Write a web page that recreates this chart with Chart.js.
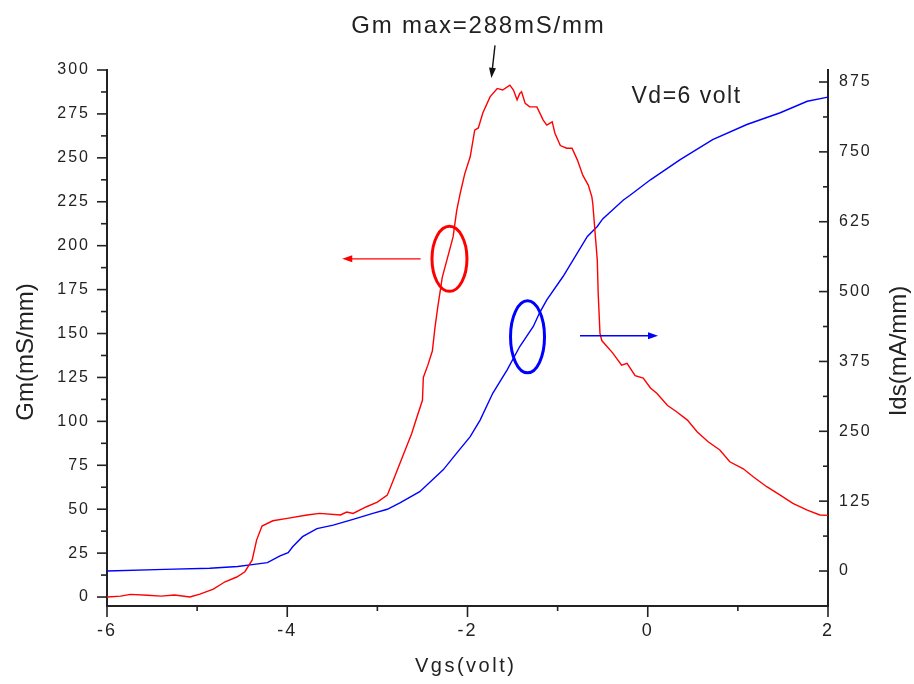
<!DOCTYPE html>
<html>
<head>
<meta charset="utf-8">
<script src="https://cdn.jsdelivr.net/npm/chart.js@4/dist/chart.umd.min.js"></script>
<style>
  html, body { margin: 0; padding: 0; background: #fff; }
  #wrap { width: 914px; height: 684px; position: relative; }
</style>
</head>
<body>
<div id="wrap"><canvas id="c"></canvas></div>
<script>
// Gm (红, 左轴) 与 Ids (蓝, 右轴) 随 Vgs 变化
const vgsGm = [-6.00, -5.85, -5.74, -5.55, -5.40, -5.25, -5.08, -4.97, -4.82, -4.69, -4.56, -4.47, -4.39, -4.34, -4.28,
  -4.16, -4.00, -3.78, -3.64, -3.41, -3.34, -3.27, -3.12, -3.00, -2.89, -2.83, -2.72, -2.62, -2.56, -2.50, -2.49,
  -2.44, -2.39, -2.36, -2.33, -2.28, -2.16, -2.12, -2.08, -2.03, -1.97, -1.92, -1.88, -1.83, -1.75, -1.67, -1.61,
  -1.53, -1.49, -1.45, -1.42, -1.40, -1.36, -1.31, -1.23, -1.16, -1.12, -1.06, -1.03, -0.97, -0.90, -0.84, -0.78,
  -0.72, -0.66, -0.62, -0.61, -0.56, -0.55, -0.53, -0.51, -0.39, -0.29, -0.23, -0.14, -0.05, 0.03, 0.10, 0.22,
  0.32, 0.44, 0.55, 0.67, 0.80, 0.91, 1.06, 1.17, 1.32, 1.47, 1.61, 1.77, 1.91, 2.00];
const gm = [0, 0.5, 1.5, 1, 0.5, 1.2, 0, 1.7, 4.5, 8.7, 11.4, 14.4, 21, 32.4, 40.4,
  43.4, 44.8, 46.7, 47.6, 46.7, 48.4, 47.6, 51.4, 54, 58, 65.6, 80, 93, 102.6, 112, 125,
  132, 140, 153.8, 165, 182, 205, 220, 230, 241, 250.6, 265.8, 267, 275.5, 284.7, 289.5, 288.6,
  291.4, 288.6, 283, 286.7, 287.6, 281, 279, 279, 271.5, 268.6, 270.5, 264, 257, 255.5, 255.5, 248.7,
  240, 234.5, 227.8, 224, 191.8, 173, 150, 146, 139, 132, 133, 126, 124.6, 119, 116, 109,
  105.5, 100.7, 94, 88.4, 83.7, 77, 73, 68.5, 62.8, 58, 53.3, 49.5, 46.7, 46.5];

const vgsIds = [-6.00, -5.36, -4.86, -4.55, -4.41, -4.22, -4.08, -3.99, -3.94, -3.83, -3.67, -3.49, -3.27, -3.05,
  -2.89, -2.75, -2.53, -2.27, -2.12, -1.97, -1.86, -1.72, -1.56, -1.42, -1.27, -1.20, -1.12, -0.94, -0.67, -0.56,
  -0.50, -0.27, -0.20, 0.03, 0.36, 0.72, 1.10, 1.47, 1.77, 2.00];
const ids = [0, 3, 5, 8, 11, 15, 27, 33, 43.5, 61.5, 76, 82, 92.5, 103,
  110.5, 122, 142, 181, 211, 240.5, 270, 318, 360, 401.7, 437.5, 462, 485, 527, 598.7, 616.5,
  630, 664, 672, 700, 736, 772, 799, 820, 840.5, 848];

// 刻度
const xTicks = [-6, -4, -2, 0, 2];
const xMinor = [-5, -3, -1, 1];
const gmTicks = [0, 25, 50, 75, 100, 125, 150, 175, 200, 225, 250, 275, 300];
const gmMinor = [12.5, 37.5, 62.5, 87.5, 112.5, 137.5, 162.5, 187.5, 212.5, 237.5, 262.5, 287.5];
const idsTicks = [0, 125, 250, 375, 500, 625, 750, 875];
const idsMinor = [62.5, 187.5, 312.5, 437.5, 562.5, 687.5, 812.5];

const FONT = 'Arial, "Liberation Sans", sans-serif';
const INK = '#222';

function arrow(ctx, x1, y1, x2, y2, color) {
  const a = Math.atan2(y2 - y1, x2 - x1);
  const len = 10, half = 3.5;
  ctx.strokeStyle = color; ctx.fillStyle = color; ctx.lineWidth = 1.4;
  ctx.beginPath();
  ctx.moveTo(x1, y1);
  ctx.lineTo(x2 - Math.cos(a) * len * 0.5, y2 - Math.sin(a) * len * 0.5);
  ctx.stroke();
  ctx.beginPath();
  ctx.moveTo(x2, y2);
  ctx.lineTo(x2 - len * Math.cos(a) + half * Math.sin(a), y2 - len * Math.sin(a) - half * Math.cos(a));
  ctx.lineTo(x2 - len * Math.cos(a) - half * Math.sin(a), y2 - len * Math.sin(a) + half * Math.cos(a));
  ctx.closePath();
  ctx.fill();
}

function tickMarks(ctx, scale, values, len, side) {
  values.forEach(v => {
    const p = scale.getPixelForValue(v);
    ctx.beginPath();
    if (side === 'bottom') { ctx.moveTo(p, scale.top); ctx.lineTo(p, scale.top + len); }
    else if (side === 'left') { ctx.moveTo(scale.right, p); ctx.lineTo(scale.right - len, p); }
    else { ctx.moveTo(scale.left, p); ctx.lineTo(scale.left - len, p); } // 右轴刻度朝内
    ctx.stroke();
  });
}

function spacedText(ctx, text, x, y, size, spacing) {
  ctx.font = size + 'px ' + FONT;
  ctx.letterSpacing = spacing + 'px';
  ctx.fillText(text, x, y);
}

const frame = {
  id: 'frame',
  beforeDraw(chart) {
    // 原图文字被横向拉宽，用字距模拟
    chart.ctx.letterSpacing = '2px';
  },
  beforeDatasetsDraw(chart) {
    const ctx = chart.ctx;
    const { x, yGm, yIds } = chart.scales;
    ctx.letterSpacing = '0px';
    ctx.save();
    ctx.strokeStyle = INK;
    ctx.lineWidth = 1.6;
    tickMarks(ctx, x, xTicks, 11, 'bottom');
    tickMarks(ctx, x, xMinor, 5, 'bottom');
    tickMarks(ctx, yGm, gmTicks, 10, 'left');
    tickMarks(ctx, yGm, gmMinor, 6, 'left');
    tickMarks(ctx, yIds, idsTicks, 9, 'right');
    tickMarks(ctx, yIds, idsMinor, 5, 'right');
    ctx.restore();
  },
  afterDraw(chart) {
    const ctx = chart.ctx;
    const { x, yGm, yIds } = chart.scales;
    ctx.save();
    ctx.letterSpacing = '0px';

    // 纵轴标题（自下而上书写）
    ctx.fillStyle = INK;
    ctx.font = '24px ' + FONT;
    ctx.textAlign = 'center';
    ctx.textBaseline = 'alphabetic';
    [['Gm(mS/mm)', 33, 352], ['Ids(mA/mm)', 906, 351]].forEach(([t, px, py]) => {
      ctx.save();
      ctx.translate(px, py);
      ctx.rotate(-Math.PI / 2);
      ctx.fillText(t, 0, 0);
      ctx.restore();
    });

    // 横轴标题与标注文字
    ctx.textAlign = 'left';
    spacedText(ctx, 'Vgs(volt)', 415, 672, 20, 2.5);
    spacedText(ctx, 'Gm max=288mS/mm', x.getPixelForValue(-3.29), yGm.getPixelForValue(320.8), 24, 1.8);
    spacedText(ctx, 'Vd=6 volt', x.getPixelForValue(-0.18), yGm.getPixelForValue(281.5), 23, 1.5);
    ctx.letterSpacing = '0px';

    // 指向最大值的黑色箭头
    arrow(ctx, x.getPixelForValue(-1.695), yGm.getPixelForValue(314), x.getPixelForValue(-1.735), yGm.getPixelForValue(295.5), '#111');

    // 红色圈 + 左箭头 (Gm 对应左轴)
    ctx.strokeStyle = '#ff0000';
    ctx.lineWidth = 3;
    ctx.beginPath();
    ctx.ellipse(x.getPixelForValue(-2.2), yGm.getPixelForValue(192.5), 17.5, 32.5, 0, 0, Math.PI * 2);
    ctx.stroke();
    arrow(ctx, x.getPixelForValue(-2.52), yGm.getPixelForValue(192.5), x.getPixelForValue(-3.39), yGm.getPixelForValue(192.5), '#ff0000');

    // 蓝色圈 + 右箭头 (Ids 对应右轴)
    ctx.strokeStyle = '#0000ff';
    ctx.lineWidth = 3;
    ctx.beginPath();
    ctx.ellipse(x.getPixelForValue(-1.334), yIds.getPixelForValue(419), 17, 36, 0, 0, Math.PI * 2);
    ctx.stroke();
    arrow(ctx, x.getPixelForValue(-0.752), yIds.getPixelForValue(421), x.getPixelForValue(0.114), yIds.getPixelForValue(421), '#0000ff');

    ctx.restore();
  }
};

const axisBorder = { display: true, color: INK, width: 2 };

new Chart(document.getElementById('c'), {
  type: 'line',
  data: {
    datasets: [
      {
        label: 'Gm',
        data: vgsGm.map((v, i) => ({ x: v, y: gm[i] })),
        yAxisID: 'yGm',
        borderColor: '#ff0000',
        borderWidth: 1.4,
        pointRadius: 0,
        tension: 0
      },
      {
        label: 'Ids',
        data: vgsIds.map((v, i) => ({ x: v, y: ids[i] })),
        yAxisID: 'yIds',
        borderColor: '#0000ff',
        borderWidth: 1.4,
        pointRadius: 0,
        tension: 0
      }
    ]
  },
  options: {
    responsive: true,
    maintainAspectRatio: false,
    animation: false,
    layout: { padding: { top: 70, left: 0, right: 0, bottom: 0 } },
    plugins: { legend: { display: false }, tooltip: { enabled: false } },
    scales: {
      x: {
        type: 'linear',
        min: -6, max: 2,
        grid: { display: false, drawTicks: false },
        border: axisBorder,
        ticks: { font: { family: FONT, size: 18 }, color: INK, padding: 14, maxRotation: 0 },
        afterBuildTicks: s => { s.ticks = xTicks.map(v => ({ value: v })); },
        afterFit: s => { s.height = 78; }
      },
      yGm: {
        type: 'linear',
        position: 'left',
        min: -5.1, max: 300,
        grid: { display: false, drawTicks: false },
        border: axisBorder,
        ticks: { font: { family: FONT, size: 16 }, color: INK, padding: 17 },
        afterBuildTicks: s => { s.ticks = gmTicks.map(v => ({ value: v })); },
        afterFit: s => { s.width = 107; }
      },
      yIds: {
        type: 'linear',
        position: 'right',
        min: -62.6, max: 896.5,
        grid: { display: false, drawTicks: false },
        border: axisBorder,
        ticks: { font: { family: FONT, size: 16 }, color: INK, padding: 11 },
        afterBuildTicks: s => { s.ticks = idsTicks.map(v => ({ value: v })); },
        afterFit: s => { s.width = 86; }
      }
    }
  },
  plugins: [frame]
});
</script>
</body>
</html>
